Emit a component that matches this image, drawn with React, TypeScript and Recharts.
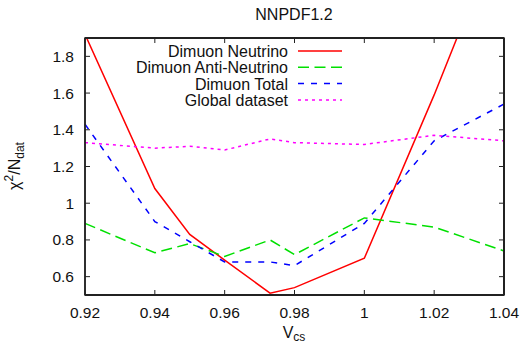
import React from "react";
import { LineChart, Line, XAxis, YAxis } from "recharts";

// V_cs scan points
const vcs = [0.92, 0.94, 0.95, 0.96, 0.973, 0.98, 1.0, 1.02, 1.04];

// chi2/Ndat per dataset
const dimuonNeutrino = [1.92, 1.08, 0.83, 0.69, 0.51, 0.54, 0.7, 1.59, 2.54];
const dimuonAntiNeutrino = [0.89, 0.73, 0.78, 0.71, 0.8, 0.72, 0.92, 0.87, 0.74];
const dimuonTotal = [1.43, 0.9, 0.79, 0.68, 0.68, 0.66, 0.89, 1.34, 1.54];
const globalDataset = [1.33, 1.3, 1.31, 1.29, 1.35, 1.33, 1.32, 1.37, 1.34];

const xTicks = [0.92, 0.94, 0.96, 0.98, 1, 1.02, 1.04];
const yTicks = [0.6, 0.8, 1, 1.2, 1.4, 1.6, 1.8];
const Y_MIN = 0.5;
const Y_MAX = 1.9;

const SERIES = [
  { key: "nu", name: "Dimuon Neutrino", color: "#ff0000", dash: undefined },
  { key: "nubar", name: "Dimuon Anti-Neutrino", color: "#00e000", dash: "11 5.5" },
  { key: "total", name: "Dimuon Total", color: "#0000ff", dash: "6 7" },
  { key: "global", name: "Global dataset", color: "#ff00ff", dash: "3 4" },
];

const data = vcs.map((x, i) => ({
  x,
  nu: dimuonNeutrino[i],
  nubar: dimuonAntiNeutrino[i],
  total: dimuonTotal[i],
  global: globalDataset[i],
}));

const FONT = "'Liberation Sans', Arial, sans-serif";
const FRAME = "#222222";
const INK = "#111";

// plot box (margins + axis sizes below)
const PLOT = { left: 85, top: 38, right: 504, bottom: 295 };

const fmt = (v: number) => String(Number(v.toFixed(2)));

// title, axis titles, frame and the key, drawn over the chart
const Overlay = () => (
  <svg
    width={523}
    height={345}
    style={{ position: "absolute", left: 0, top: 0, pointerEvents: "none", fontFamily: FONT }}
  >
    <rect
      x={PLOT.left}
      y={PLOT.top}
      width={PLOT.right - PLOT.left}
      height={PLOT.bottom - PLOT.top}
      fill="none"
      stroke={FRAME}
      strokeWidth={1.5}
    />
    <text x={294} y={20} textAnchor="middle" fontSize={16} fill={INK}>
      NNPDF1.2
    </text>
    <text x={20} y={166} transform="rotate(-90, 20, 166)" textAnchor="middle" fontSize={16} fill={INK}>
      χ<tspan dy={-7} fontSize={12}>2</tspan>
      <tspan dy={7}>/N</tspan>
      <tspan dy={4} fontSize={12}>dat</tspan>
    </text>
    <text x={294} y={338} textAnchor="middle" fontSize={16} fill={INK}>
      V<tspan dy={3} fontSize={12}>cs</tspan>
    </text>
    {SERIES.map((s, i) => {
      const y = 51 + i * 16.3;
      return (
        <g key={s.key}>
          <text x={288} y={y + 6} textAnchor="end" fontSize={16} fill={INK}>
            {s.name}
          </text>
          <line x1={298} x2={342} y1={y} y2={y} stroke={s.color} strokeWidth={1.5} strokeDasharray={s.dash} />
        </g>
      );
    })}
  </svg>
);

export default function App() {
  return (
    <div style={{ position: "absolute", left: 0, top: 0, width: 523, height: 345, background: "#fff" }}>
      <LineChart width={523} height={345} data={data} margin={{ top: 33, right: 14, bottom: 20, left: 25 }}>
        <XAxis
          dataKey="x"
          type="number"
          domain={[0.92, 1.04]}
          ticks={xTicks}
          tickFormatter={fmt}
          height={30}
          tickSize={-5}
          tickMargin={17}
          stroke={FRAME}
          axisLine={{ stroke: FRAME, strokeWidth: 2 }}
          tick={{ fill: INK, fontSize: 15.5, fontFamily: FONT }}
        />
        {/* top edge with inward ticks */}
        <XAxis
          xAxisId="top"
          dataKey="x"
          orientation="top"
          type="number"
          domain={[0.92, 1.04]}
          ticks={xTicks}
          tickFormatter={() => ""}
          height={5}
          tickSize={-5}
          stroke={FRAME}
          axisLine={{ stroke: FRAME, strokeWidth: 2 }}
        />
        <YAxis
          type="number"
          domain={[Y_MIN, Y_MAX]}
          allowDataOverflow
          ticks={yTicks}
          tickFormatter={fmt}
          width={60}
          tickSize={-5}
          tickMargin={16}
          stroke={FRAME}
          axisLine={{ stroke: FRAME, strokeWidth: 1.5 }}
          tick={{ fill: INK, fontSize: 15.5, fontFamily: FONT }}
        />
        {/* right edge with inward ticks */}
        <YAxis
          yAxisId="right"
          orientation="right"
          type="number"
          domain={[Y_MIN, Y_MAX]}
          allowDataOverflow
          ticks={yTicks}
          tickFormatter={() => ""}
          width={5}
          tickSize={-5}
          stroke={FRAME}
          axisLine={{ stroke: FRAME, strokeWidth: 2 }}
        />
        {SERIES.map((s) => (
          <Line
            key={s.key}
            type="linear"
            dataKey={s.key}
            name={s.name}
            stroke={s.color}
            strokeWidth={1.5}
            strokeDasharray={s.dash}
            dot={false}
            activeDot={false}
            isAnimationActive={false}
          />
        ))}
      </LineChart>
      <Overlay />
    </div>
  );
}
